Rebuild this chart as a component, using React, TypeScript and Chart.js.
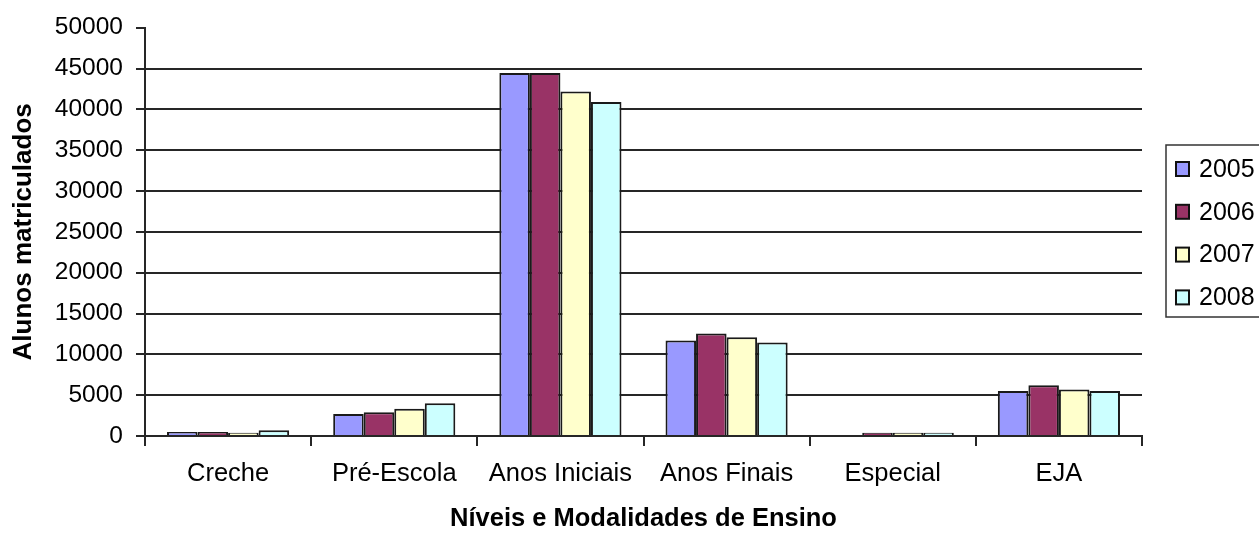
import React, { useEffect, useRef } from "react";
import { Chart, registerables } from "chart.js";

Chart.register(...registerables);

const categories = ["Creche", "Pré-Escola", "Anos Iniciais", "Anos Finais", "Especial", "EJA"];
const seriesLabels = ["2005", "2006", "2007", "2008"];
const values2005 = [480, 2700, 44450, 11700, 0, 5500];
const values2006 = [480, 2900, 44450, 12550, 400, 6200];
const values2007 = [400, 3350, 42200, 12100, 400, 5700];
const values2008 = [700, 4000, 40900, 11450, 400, 5500];
const seriesColors = ["#9999ff", "#993366", "#ffffcc", "#ccffff"];
const yTitle = "Alunos matriculados";
const xTitle = "Níveis e Modalidades de Ensino";
const yMax = 50000;
const yStep = 5000;

const FONT = "'Liberation Sans', Arial, sans-serif";
const LINE = "#262626";

const legendPlugin = {
  id: "boxedLegend",
  afterDraw(chart: any) {
    const ctx = chart.ctx;
    const left = 1166;
    const top = 145;
    const w = 140;
    const h = 172;
    ctx.save();
    ctx.strokeStyle = "#333";
    ctx.lineWidth = 1.5;
    ctx.strokeRect(left, top, w, h);
    ctx.font = `25px ${FONT}`;
    ctx.textBaseline = "middle";
    ctx.textAlign = "left";
    chart.data.datasets.forEach((ds: any, i: number) => {
      const cy = 169 + i * 42.8;
      ctx.fillStyle = ds.backgroundColor;
      ctx.fillRect(1176, cy - 7, 13, 14);
      ctx.strokeStyle = "#111";
      ctx.lineWidth = 2;
      ctx.strokeRect(1176, cy - 7, 13, 14);
      ctx.fillStyle = "#000";
      ctx.fillText(ds.label, 1199, cy + 1);
    });
    ctx.restore();
  },
};

export default function App() {
  const ref = useRef<HTMLCanvasElement>(null);

  useEffect(() => {
    if (!ref.current) return;
    const seriesValues = [values2005, values2006, values2007, values2008];
    const chart = new Chart(ref.current, {
      type: "bar",
      data: {
        labels: categories,
        datasets: seriesLabels.map((label, i) => ({
          label,
          data: seriesValues[i],
          backgroundColor: seriesColors[i],
          borderColor: "#1a1a1a",
          borderWidth: 2,
          borderSkipped: "bottom",
          categoryPercentage: 0.735,
          barPercentage: 1.0,
        })),
      },
      options: {
        responsive: false,
        animation: false,
        devicePixelRatio: 1,
        layout: { padding: { left: 0, top: 27, right: 158, bottom: 0 } },
        plugins: {
          legend: { display: false },
          tooltip: { enabled: false },
        },
        scales: {
          x: {
            grid: {
              display: true,
              drawOnChartArea: false,
              drawTicks: true,
              tickLength: 10,
              offset: true,
              color: LINE,
              lineWidth: 2,
            },
            border: { display: true, color: LINE, width: 2 },
            ticks: {
              color: "#000",
              font: { family: FONT, size: 25.5 },
              padding: 13,
              maxRotation: 0,
              autoSkip: false,
            },
            title: {
              display: true,
              text: xTitle,
              color: "#000",
              font: { family: FONT, size: 25.5, weight: "bold", lineHeight: 1 },
              padding: { top: 0, bottom: 1 },
            },
            afterFit(scale: any) {
              scale.height = 97;
            },
          },
          y: {
            min: 0,
            max: yMax,
            ticks: {
              stepSize: yStep,
              color: "#000",
              font: { family: FONT, size: 24.5 },
              padding: 13,
              callback: (v: any) => String(v),
            },
            grid: {
              color: (c: any) => (c.tick && c.tick.value === yMax ? "rgba(0,0,0,0)" : LINE),
              tickColor: LINE,
              lineWidth: 2,
              drawTicks: true,
              tickLength: 9,
            },
            border: { display: true, color: LINE, width: 2 },
            title: {
              display: true,
              text: yTitle,
              color: "#000",
              font: { family: FONT, size: 26, weight: "bold", lineHeight: 1 },
              padding: { top: 11, bottom: 0 },
            },
            afterFit(scale: any) {
              scale.width = 145;
            },
          },
        },
      },
      plugins: [legendPlugin],
    });
    return () => chart.destroy();
  }, []);

  return (
    <div
      style={{
        position: "fixed",
        left: 0,
        top: 0,
        width: 1259,
        height: 533,
        overflow: "hidden",
        background: "#fff",
      }}
    >
      <canvas ref={ref} width={1300} height={533} style={{ width: 1300, height: 533 }} />
    </div>
  );
}
